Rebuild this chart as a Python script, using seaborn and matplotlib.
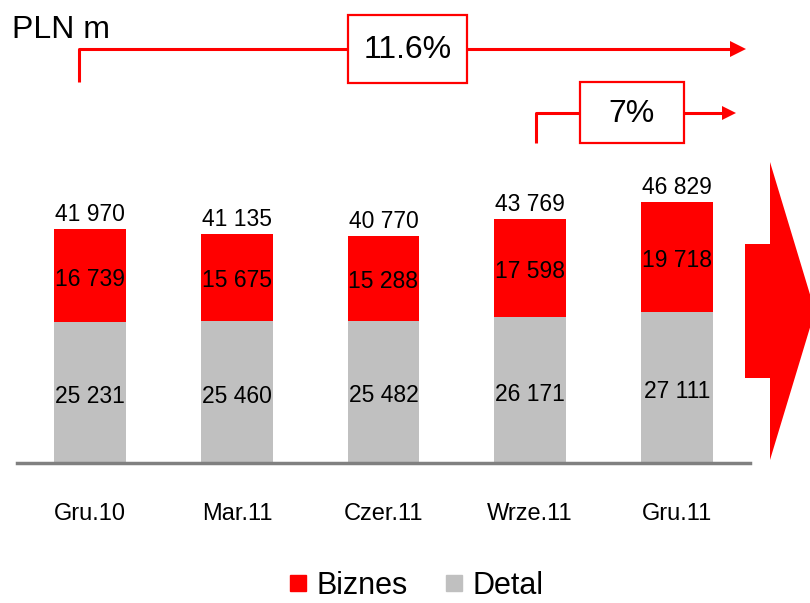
import matplotlib
matplotlib.use("Agg")
import matplotlib.pyplot as plt
import seaborn as sns
import pandas as pd
from matplotlib.lines import Line2D
from matplotlib.patches import Rectangle, Polygon

# data
periods = ['Gru.10', 'Mar.11', 'Czer.11', 'Wrze.11', 'Gru.11']
detal = [25231, 25460, 25482, 26171, 27111]
biznes = [16739, 15675, 15288, 17598, 19718]
growth_long = '11.6%'
growth_short = '7%'

df = pd.DataFrame({'period': periods, 'Detal': detal, 'Biznes': biznes})
df['total'] = df['Detal'] + df['Biznes']

RED = '#FF0000'
GREY = '#C0C0C0'

sns.set_style('white')
plt.rcParams['font.family'] = ['Liberation Sans', 'DejaVu Sans']
plt.rcParams['text.color'] = 'black'
plt.rcParams['xtick.color'] = 'black'

W, H = 810, 603
fig = plt.figure(figsize=(W / 100, H / 100), dpi=100)


def px(x, y):
    # pixel coords (from top-left) -> figure fraction
    return x / W, 1 - y / H


ax = fig.add_axes([17 / W, (H - 463) / H, 733 / W, 323 / H])

sns.barplot(data=df, x='period', y='total', color=RED, width=0.49,
            saturation=1, linewidth=0, ax=ax)
sns.barplot(data=df, x='period', y='Detal', color=GREY, width=0.49,
            saturation=1, linewidth=0, ax=ax)

ax.set_xlim(-0.5, 4.5)
ax.set_ylim(0, 58000)
ax.set_xlabel('')
ax.set_ylabel('')
ax.set_yticks([])
for s in ['top', 'right', 'left']:
    ax.spines[s].set_visible(False)
ax.spines['bottom'].set_color('#808080')
ax.spines['bottom'].set_linewidth(2.5)
ax.tick_params(axis='x', length=0, pad=29, labelsize=17)


def fmt(v):
    return f'{v:,}'.replace(',', ' ')


for i, row in df.iterrows():
    ax.text(i, row['Detal'] / 2 - 700, fmt(row['Detal']), ha='center',
            va='center', fontsize=16.5)
    ax.text(i, row['Detal'] + row['Biznes'] / 2 - 600, fmt(row['Biznes']),
            ha='center', va='center', fontsize=16.5)
    ax.annotate(fmt(row['total']), (i, row['total']), xytext=(0, 2),
                textcoords='offset points', ha='center', va='bottom',
                fontsize=16.5)

# unit label
fig.text(*px(12, 30), 'PLN m', fontsize=23, ha='left', va='center')

red_kw = dict(color=RED, linewidth=2.2, solid_capstyle='butt')


def growth_arrow(x0, y_low, y_line, bx0, bx1, by0, by1, tip, head_len, head_h, label):
    fig.add_artist(Line2D(*zip(px(x0, y_low), px(x0, y_line), px(bx0, y_line)),
                          **red_kw))
    fig.add_artist(Line2D(*zip(px(bx1, y_line), px(tip - head_len, y_line)),
                          **red_kw))
    fig.add_artist(Polygon([px(tip - head_len, y_line - head_h),
                            px(tip, y_line),
                            px(tip - head_len, y_line + head_h)],
                           closed=True, facecolor=RED, edgecolor='none'))
    x, y = px(bx0, by1)
    fig.add_artist(Rectangle((x, y), (bx1 - bx0) / W, (by1 - by0) / H,
                             facecolor='white', edgecolor=RED, linewidth=1.6))
    fig.text(*px((bx0 + bx1) / 2, (by0 + by1) / 2 + 1), label, fontsize=23,
             ha='center', va='center')


growth_arrow(79, 82, 49, 348, 467, 15, 83, 746, 16, 8, growth_long)
growth_arrow(536, 143, 113, 580, 684, 82, 143, 736, 14, 7, growth_short)

# big arrow on the right edge
fig.add_artist(Polygon([px(745, 244), px(770, 244), px(770, 162), px(815, 311),
                        px(770, 460), px(770, 378), px(745, 378)],
                       closed=True, facecolor=RED, edgecolor='none'))

handles = [Line2D([], [], marker='s', linestyle='none', markersize=12,
                  color=RED, label='Biznes'),
           Line2D([], [], marker='s', linestyle='none', markersize=12,
                  color=GREY, label='Detal')]
fig.legend(handles=handles, loc='center', bbox_to_anchor=px(413, 586), ncol=2,
           frameon=False, fontsize=22, handletextpad=0.1, columnspacing=1.0,
           handlelength=1.0)

fig.savefig('out.png', dpi=100)
